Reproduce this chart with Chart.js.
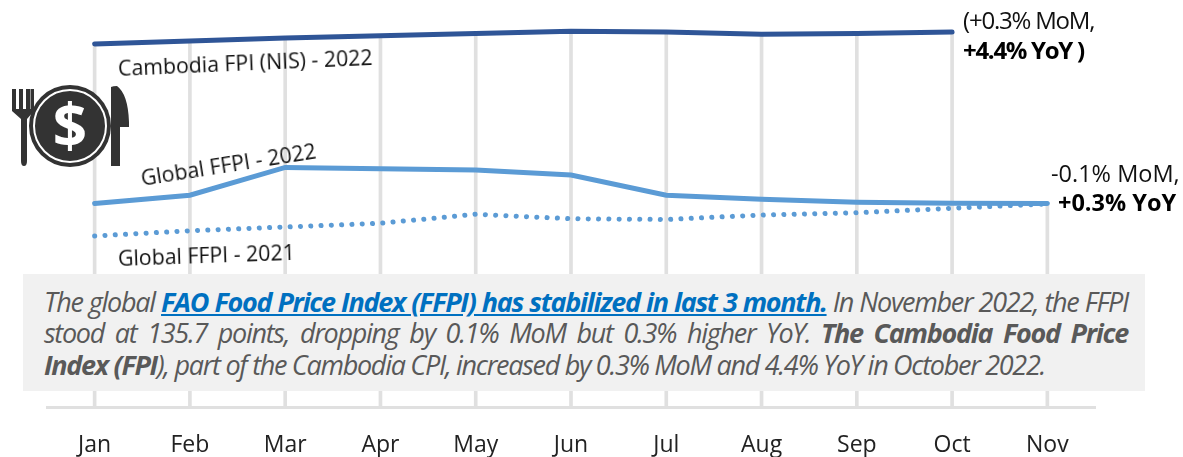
<!DOCTYPE html>
<html>
<head>
<meta charset="utf-8">
<script src="https://cdn.jsdelivr.net/npm/chart.js@4"></script>
<style>
  html, body { margin: 0; padding: 0; background: #fff; }
  #wrap { position: relative; width: 1183px; height: 457px; overflow: hidden; font-family: "Open Sans", sans-serif; }
  #grafico { position: absolute; left: 0; top: 0; }
  .nota { position: absolute; white-space: nowrap; color: #111; font-size: 21.3px; line-height: 26px; transform-origin: left center; }
  .forte { font-weight: 700; color: #000; }
  #painel { position: absolute; left: 23px; top: 274px; width: 1122px; height: 117px; background: #f1f1f1; }
  .linha { position: absolute; left: 21px; width: 1084px; font-style: italic; font-size: 27px; line-height: 32px; letter-spacing: -1.3px; color: #595959; white-space: nowrap; }
  .just { white-space: normal; text-align: justify; text-align-last: justify; }
  .linha a { color: #0070c0; font-weight: 700; text-decoration: underline; }
  .linha b { font-weight: 700; }
  #icone { position: absolute; left: 11px; top: 84px; }
</style>
</head>
<body>
<div id="wrap">
  <canvas id="grafico" width="1183" height="457"></canvas>

  <svg id="icone" width="120" height="84" viewBox="0 0 120 84">
    <path d="M1 5h4v20h3V5h4v20h3V5h4v20h0.5V5h3.5v22l-7 8v42q0 5-3 5t-3-5V35l-9-8z" fill="#333"/>
    <circle cx="59" cy="42" r="41" fill="#333"/>
    <circle cx="59" cy="42" r="36" fill="none" stroke="#fff" stroke-width="2"/>
    <text x="59" y="63" text-anchor="middle" font-family="Open Sans" font-weight="700" font-size="60" fill="#fff">$</text>
    <path d="M100 3q2-1 6-1q11 8 12 36v5h-9v39h-9z" fill="#333"/>
  </svg>

  <div class="nota" style="left:118px; top:55px; transform:rotate(-2.5deg);">Cambodia FPI (NIS) - 2022</div>
  <div class="nota" style="left:141px; top:165px; transform:rotate(-9deg);">Global FFPI - 2022</div>
  <div class="nota" style="left:118px; top:245px; transform:rotate(-2deg);">Global FFPI - 2021</div>
  <div class="nota" style="left:963px; top:5px; font-size:24px; letter-spacing:-1.2px; line-height:30px;">(+0.3% MoM,<br><span class="forte" style="letter-spacing:-1.3px;">+4.4% YoY )</span></div>
  <div class="nota" style="left:1051px; top:159px; font-size:23.5px; line-height:28px;">-0.1% MoM,</div>
  <div class="nota forte" style="left:1058px; top:188px; font-size:23.5px; line-height:28px;">+0.3% YoY</div>

  <div id="painel">
    <div class="linha just" style="top:12px;">The global <a>FAO Food Price Index (FFPI) has stabilized in last 3 month.</a> In November 2022, the FFPI</div>
    <div class="linha just" style="top:43px;">stood at 135.7 points, dropping by 0.1% MoM but 0.3% higher YoY. <b>The Cambodia Food Price</b></div>
    <div class="linha" style="top:75px;"><b>Index (FPI</b>), part of the Cambodia CPI, increased by 0.3% MoM and 4.4% YoY in October 2022.</div>
  </div>
</div>

<script>
const MESES = ['Jan', 'Feb', 'Mar', 'Apr', 'May', 'Jun', 'Jul', 'Aug', 'Sep', 'Oct', 'Nov'];

// valores
const CAMBODIA_2022 = [242, 244, 246, 247.5, 249, 250.5, 250, 248.5, 249, 250, null];
const GLOBAL_2022 = [135.6, 141.2, 159.7, 158.9, 158, 154.7, 141.2, 138.5, 136.5, 135.9, 135.7];
const GLOBAL_2021 = [114, 117.5, 120, 122.5, 128.5, 125.5, 125, 128, 129.5, 132.5, 135.4];

// linhas verticais: do eixo ate a serie mais alta de cada mes
const TOPO_MES = MESES.map((m, i) => [0, Math.max(CAMBODIA_2022[i] || 0, GLOBAL_2022[i], GLOBAL_2021[i])]);

new Chart(document.getElementById('grafico'), {
  data: {
    labels: MESES,
    datasets: [
      { type: 'line', data: CAMBODIA_2022, borderColor: '#2f5597', borderWidth: 5, borderCapStyle: 'round', pointRadius: 0, order: 1 },
      { type: 'line', data: GLOBAL_2022, borderColor: '#5b9bd5', borderWidth: 5, borderCapStyle: 'round', pointRadius: 0, order: 2 },
      { type: 'line', data: GLOBAL_2021, borderColor: '#5b9bd5', borderWidth: 5, borderCapStyle: 'round', borderDash: [0.1, 10.2], pointRadius: 0, order: 3 },
      { type: 'bar', data: TOPO_MES, backgroundColor: '#e0e0e0', barThickness: 3, order: 4 }
    ]
  },
  options: {
    responsive: false,
    animation: false,
    layout: { padding: { left: 47, right: 88, top: 2, bottom: 0 } },
    plugins: { legend: { display: false }, tooltip: { enabled: false } },
    scales: {
      x: {
        afterFit: s => { s.height = 50; },
        offset: true,
        grid: { display: false },
        border: { color: '#e0e0e0', width: 3 },
        ticks: { color: '#222', padding: 17, font: { family: 'Open Sans', size: 23 }, maxRotation: 0 }
      },
      y: { display: false, min: 0, max: 270 }
    }
  }
});
</script>
</body>
</html>
